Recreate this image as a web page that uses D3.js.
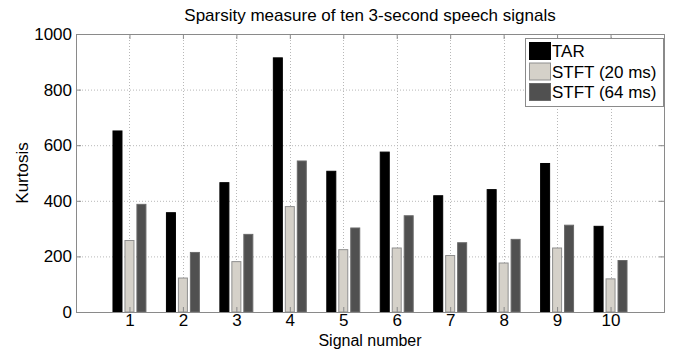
<!DOCTYPE html>
<html>
<head>
<meta charset="utf-8">
<script src="https://cdn.jsdelivr.net/npm/d3@7"></script>
<style>
  body { margin: 0; background: #fff; }
  svg text { font-family: Arial, "Liberation Sans", Helvetica, sans-serif; fill: #000; }
</style>
</head>
<body>
<div id="chart"></div>
<script>
// Kurtosis of ten speech signals
const signals = [1, 2, 3, 4, 5, 6, 7, 8, 9, 10]
const tar = [653, 359, 467, 916, 508, 577, 420, 442, 536, 310]
const stft20 = [259, 124, 183, 381, 226, 232, 205, 178, 232, 121]
const stft64 = [389, 216, 281, 545, 304, 348, 251, 263, 314, 187]
const seriesNames = ['TAR', 'STFT (20 ms)', 'STFT (64 ms)']
const yTicks = [0, 200, 400, 600, 800, 1000]

const width = 681
const height = 349
const margin = { top: 34, right: 17, bottom: 37, left: 76 }
const fontFamily = 'Arial, "Liberation Sans", Helvetica, sans-serif'

const colors = {
  fill: ['#000000', '#d5d1c9', '#505050'],
  stroke: ['#000000', '#8f8f8f', '#6a6a6a']
}

const svg = d3.select('#chart')
  .append('svg')
  .attr('width', width)
  .attr('height', height)

const x = d3.scaleLinear()
  .domain([0, 11])
  .range([margin.left, width - margin.right])

const y = d3.scaleLinear()
  .domain([0, 1000])
  .range([height - margin.bottom, margin.top])

const plotTop = y(1000)
const plotBottom = y(0)
const plotLeft = x(0)
const plotRight = x(11)

// dotted grid
const grid = svg.append('g').attr('class', 'grid')
grid.selectAll('.hgrid')
  .data(yTicks.slice(1, -1))
  .join('line')
  .attr('x1', plotLeft).attr('x2', plotRight)
  .attr('y1', d => y(d) + 0.5).attr('y2', d => y(d) + 0.5)
  .attr('stroke', '#b8b8b8')
  .attr('stroke-dasharray', '1,2')
grid.selectAll('.vgrid')
  .data(signals)
  .join('line')
  .attr('x1', d => Math.round(x(d)) + 0.5).attr('x2', d => Math.round(x(d)) + 0.5)
  .attr('y1', plotTop).attr('y2', plotBottom)
  .attr('stroke', '#b8b8b8')
  .attr('stroke-dasharray', '1,2')

// grouped bars
const series = [tar, stft20, stft64]
const barW = 0.187
const barStep = 0.224

series.forEach((vals, s) => {
  const off = (s - 1) * barStep
  svg.append('g')
    .selectAll('rect')
    .data(vals)
    .join('rect')
    .attr('x', (d, i) => x(signals[i] + off - barW / 2) + 0.5)
    .attr('y', d => y(d) + 0.5)
    .attr('width', x(barW) - x(0) - 1)
    .attr('height', d => y(0) - y(d) - 0.5)
    .attr('fill', colors.fill[s])
    .attr('stroke', colors.stroke[s])
    .attr('stroke-width', 1)
})

// axes box
const axisColor = '#8a8a8a'
const yAxisL = d3.axisLeft(y).tickValues(yTicks).tickFormat(d3.format('d')).tickSize(-5).tickPadding(4)
const yAxisR = d3.axisRight(y).tickValues(yTicks).tickSize(-5).tickFormat('')
const xAxisB = d3.axisBottom(x).tickValues(signals).tickSize(-5).tickPadding(2)
const xAxisT = d3.axisTop(x).tickValues(signals).tickSize(-5).tickFormat('')

function styleAxis(g) {
  g.attr('font-family', fontFamily)
  g.select('.domain').attr('stroke', axisColor)
  g.selectAll('.tick line').attr('stroke', axisColor)
  g.selectAll('.tick text')
    .attr('font-size', '17px')
    .attr('fill', '#000')
}

svg.append('g').attr('transform', `translate(${plotLeft},0)`).call(yAxisL).call(styleAxis)
svg.append('g').attr('transform', `translate(${plotRight},0)`).call(yAxisR).call(styleAxis)
svg.append('g').attr('transform', `translate(0,${plotBottom})`).call(xAxisB).call(styleAxis)
svg.append('g').attr('transform', `translate(0,${plotTop})`).call(xAxisT).call(styleAxis)

// titles
svg.append('text')
  .attr('x', (plotLeft + plotRight) / 2)
  .attr('y', 21)
  .attr('text-anchor', 'middle')
  .attr('font-size', '17px')
  .text('Sparsity measure of ten 3-second speech signals')

svg.append('text')
  .attr('x', (plotLeft + plotRight) / 2)
  .attr('y', 345.5)
  .attr('text-anchor', 'middle')
  .attr('font-size', '16px')
  .text('Signal number')

svg.append('text')
  .attr('transform', `translate(28,${(plotTop + plotBottom) / 2}) rotate(-90)`)
  .attr('text-anchor', 'middle')
  .attr('font-size', '17px')
  .text('Kurtosis')

// legend
const legend = svg.append('g').attr('transform', 'translate(525,38)')
legend.append('rect')
  .attr('x', 0.5).attr('y', 0.5)
  .attr('width', 138).attr('height', 68)
  .attr('fill', '#fff')
  .attr('stroke', axisColor)

const items = legend.selectAll('.legend-item')
  .data(seriesNames)
  .join('g')
  .attr('class', 'legend-item')
  .attr('transform', (d, i) => `translate(4,${4 + i * 20.5})`)

items.append('rect')
  .attr('x', 0.5).attr('y', 0.5)
  .attr('width', 21).attr('height', 17)
  .attr('fill', (d, i) => colors.fill[i])
  .attr('stroke', (d, i) => colors.stroke[i])

items.append('text')
  .attr('x', 23)
  .attr('y', 15)
  .attr('font-size', '17px')
  .text(d => d)
</script>
</body>
</html>
